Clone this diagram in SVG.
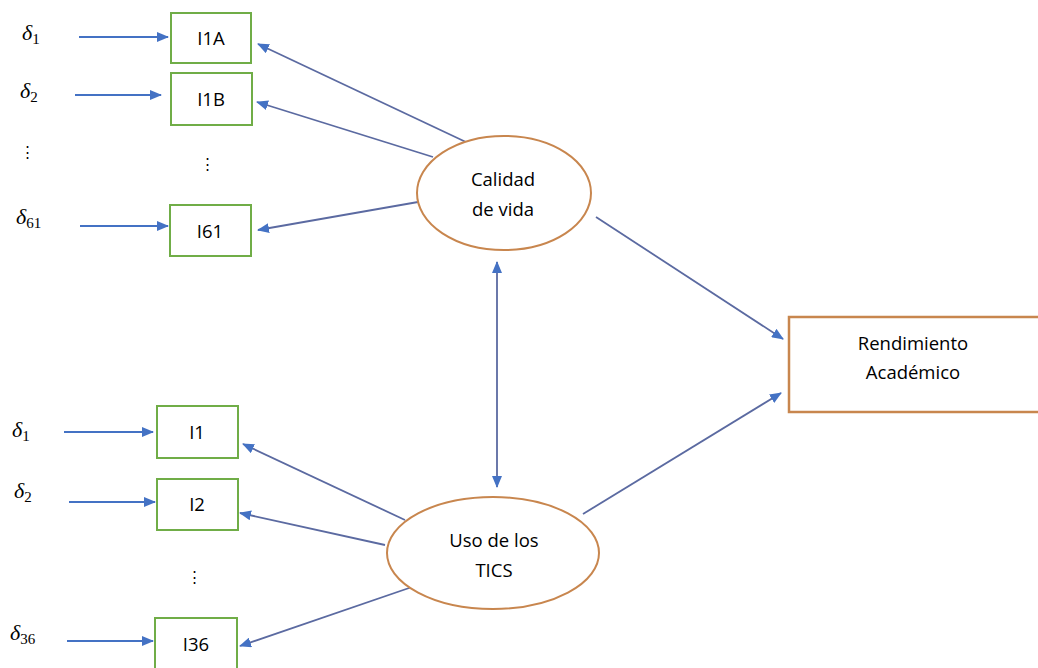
<svg xmlns="http://www.w3.org/2000/svg" width="1038" height="668" viewBox="0 0 1038 668">
<defs>
<marker id="ah" viewBox="0 0 12 10" refX="11" refY="5" markerWidth="12" markerHeight="10" markerUnits="userSpaceOnUse" orient="auto-start-reverse">
<path d="M0,0 L12,5 L0,10 Z" fill="#4472C4"/>
</marker>
</defs>
<style>
.box{fill:#fff;stroke:#70AD47;stroke-width:2}
.ell{fill:#fff;stroke:#C8864E;stroke-width:2}
.rend{fill:#fff;stroke:#C8864E;stroke-width:2.5}
.t{font-family:"Open Sans","Liberation Sans",sans-serif;font-size:18.5px;fill:#000;text-anchor:middle}
.d{font-family:"Liberation Serif",serif;font-style:italic;font-size:22px;fill:#000}
.sub{font-style:normal;font-size:15px}
.dots{font-family:"Liberation Sans",sans-serif;font-size:15px;fill:#000;text-anchor:middle}
.ea{stroke:#4472C4;stroke-width:1.8;fill:none;marker-end:url(#ah)}
.la{stroke:#5B6AA1;stroke-width:1.8;fill:none;marker-end:url(#ah)}
</style>
<rect width="1038" height="668" fill="#fff"/>
<g id="connectors">
<line class="ea" x1="79" y1="37" x2="168" y2="37"/>
<line class="ea" x1="75" y1="95" x2="161" y2="95"/>
<line class="ea" x1="80" y1="226" x2="168" y2="226"/>
<line class="ea" x1="64" y1="432" x2="153" y2="432"/>
<line class="ea" x1="69" y1="502" x2="155" y2="502"/>
<line class="ea" x1="67" y1="641" x2="153" y2="641"/>
<line class="la" x1="468" y1="143" x2="258" y2="44"/>
<line class="la" x1="433" y1="157" x2="257" y2="102"/>
<line class="la" x1="418" y1="202" x2="258" y2="230"/>
<line class="la" x1="596" y1="217" x2="783" y2="339"/>
<line class="la" x1="405" y1="520" x2="243" y2="444"/>
<line class="la" x1="385" y1="545" x2="240" y2="513"/>
<line class="la" x1="412" y1="587" x2="240" y2="646"/>
<line class="la" x1="583" y1="514" x2="781" y2="393"/>
<line class="la" x1="497" y1="262" x2="497" y2="487" style="marker-start:url(#ah)"/>
</g>
<g id="d1a"><text class="d" x="22" y="40">δ<tspan class="sub" dy="4">1</tspan></text></g>
<g id="d2a"><text class="d" x="20" y="98">δ<tspan class="sub" dy="4">2</tspan></text></g>
<g id="dotsa"><text class="dots" x="27" y="157">⋮</text></g>
<g id="d61"><text class="d" x="16" y="224">δ<tspan class="sub" dy="4">61</tspan></text></g>
<g id="d1b"><text class="d" x="12" y="437">δ<tspan class="sub" dy="4">1</tspan></text></g>
<g id="d2b"><text class="d" x="14" y="498">δ<tspan class="sub" dy="4">2</tspan></text></g>
<g id="d36"><text class="d" x="10" y="640">δ<tspan class="sub" dy="4">36</tspan></text></g>
<g id="I1A"><rect class="box" x="171" y="13" width="80" height="50"/><text class="t" x="211" y="45">I1A</text></g>
<g id="I1B"><rect class="box" x="171" y="73" width="81" height="52"/><text class="t" x="211" y="106">I1B</text></g>
<g id="dotsb"><text class="dots" x="207" y="169">⋮</text></g>
<g id="I61"><rect class="box" x="170" y="205" width="81" height="51"/><text class="t" x="210" y="238">I61</text></g>
<g id="I1"><rect class="box" x="157" y="406" width="81" height="52"/><text class="t" x="197" y="439">I1</text></g>
<g id="I2"><rect class="box" x="157" y="479" width="81" height="51"/><text class="t" x="197" y="511">I2</text></g>
<g id="dotsd"><text class="dots" x="194" y="582">⋮</text></g>
<g id="I36"><rect class="box" x="155" y="618" width="82" height="52"/><text class="t" x="196" y="651">I36</text></g>
<g id="calidad"><ellipse class="ell" cx="504" cy="193" rx="87" ry="57"/><text class="t" x="503" y="186">Calidad</text><text class="t" x="503" y="216">de vida</text></g>
<g id="uso"><ellipse class="ell" cx="493" cy="553" rx="106" ry="56"/><text class="t" x="494" y="547">Uso de los</text><text class="t" x="494" y="577">TICS</text></g>
<g id="rendimiento"><rect class="rend" x="789" y="317" width="260" height="95"/><text class="t" x="913" y="350">Rendimiento</text><text class="t" x="913" y="379">Académico</text></g>
</svg>
